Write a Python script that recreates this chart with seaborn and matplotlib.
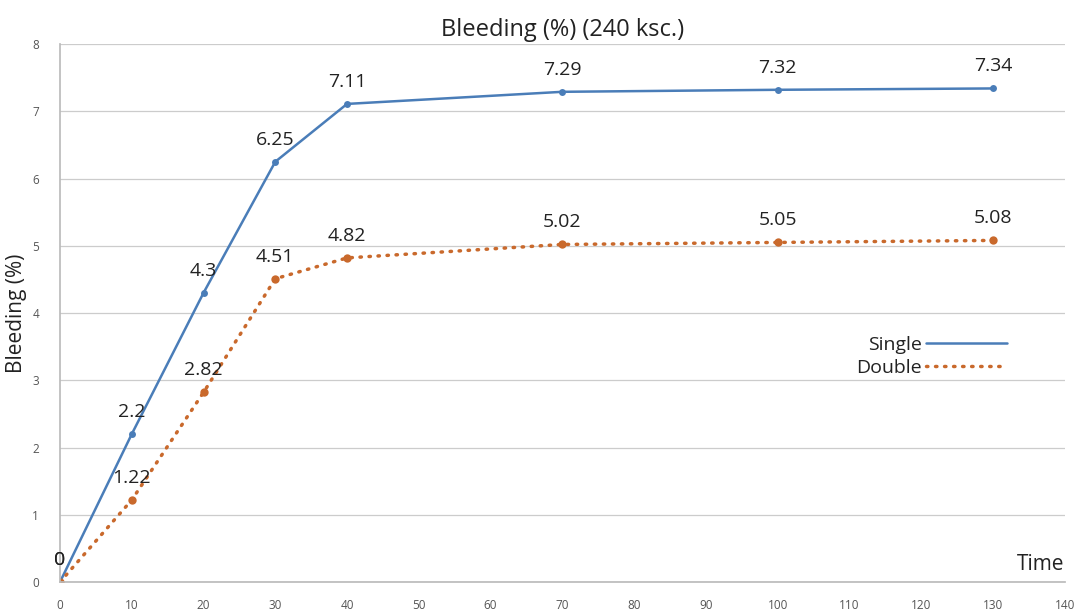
import matplotlib
matplotlib.use("Agg")
import matplotlib.pyplot as plt
import seaborn as sns
import pandas as pd

time = [0, 10, 20, 30, 40, 70, 100, 130]
single = [0, 2.2, 4.3, 6.25, 7.11, 7.29, 7.32, 7.34]
double = [0, 1.22, 2.82, 4.51, 4.82, 5.02, 5.05, 5.08]
x_ticks = list(range(0, 141, 10))
y_ticks = list(range(0, 9))

sns.set_theme(style="white")
plt.rcParams['font.family'] = ['Open Sans', 'DejaVu Sans']

df = pd.DataFrame({
    "Time": time * 2,
    "Bleeding": single + double,
    "Series": ["Single"] * len(time) + ["Double"] * len(time),
})

blue = "#4a7db8"
orange = "#c9692c"

fig = plt.figure(figsize=(10.85, 6.12), dpi=100)
ax = fig.add_axes([0.0553, 0.049, 0.926, 0.879])

sns.lineplot(data=df[df.Series == "Single"], x="Time", y="Bleeding", ax=ax,
             color=blue, linewidth=1.8, marker="o", markersize=5,
             markeredgewidth=0, label="Single")
sns.lineplot(data=df[df.Series == "Double"], x="Time", y="Bleeding", ax=ax,
             color=orange, linewidth=2.5, linestyle=(0, (0.4, 2.2)),
             dash_capstyle="round", marker="o", markersize=6,
             markeredgewidth=0, label="Double")

for xs, ys in [(time, single), (time, double)]:
    for xv, yv in zip(xs, ys):
        ax.annotate(f"{yv:g}", (xv, yv), xytext=(0, 16), textcoords="offset points",
                    ha="center", va="center", fontsize=14, color="#222222")

ax.set_xlim(0, 140)
ax.set_ylim(0, 8)
ax.set_xticks(x_ticks)
ax.set_yticks(y_ticks)
ax.tick_params(axis="both", labelsize=8.5, colors="#555555", length=3, width=0.6)
ax.tick_params(axis="x", pad=9)
ax.tick_params(axis="y", pad=12)
ax.grid(axis="y", color="#cccccc", linewidth=0.9)
for s in ["top", "right"]:
    ax.spines[s].set_visible(False)
ax.spines["left"].set_color("#bbbbbb")
ax.spines["bottom"].set_color("#bbbbbb")
ax.set_axisbelow(True)

ax.set_xlabel("")
ax.set_ylabel("Bleeding (%)", fontsize=15, color="#222222", labelpad=4)
ax.text(140, 0.1, "Time", ha="right", va="bottom", fontsize=15, color="#222222")
ax.set_title("Bleeding (%) (240 ksc.)", fontsize=17, color="#222222", pad=6)

leg = ax.legend(loc="center left", bbox_to_anchor=(0.775, 0.42), frameon=False,
                markerfirst=False, fontsize=14, handlelength=4.2, labelspacing=0.25,
                handletextpad=0.2)
for h in leg.legend_handles:
    h.set_marker("")
for t in leg.get_texts():
    t.set_color("#222222")

fig.savefig("out.png", dpi=100)
